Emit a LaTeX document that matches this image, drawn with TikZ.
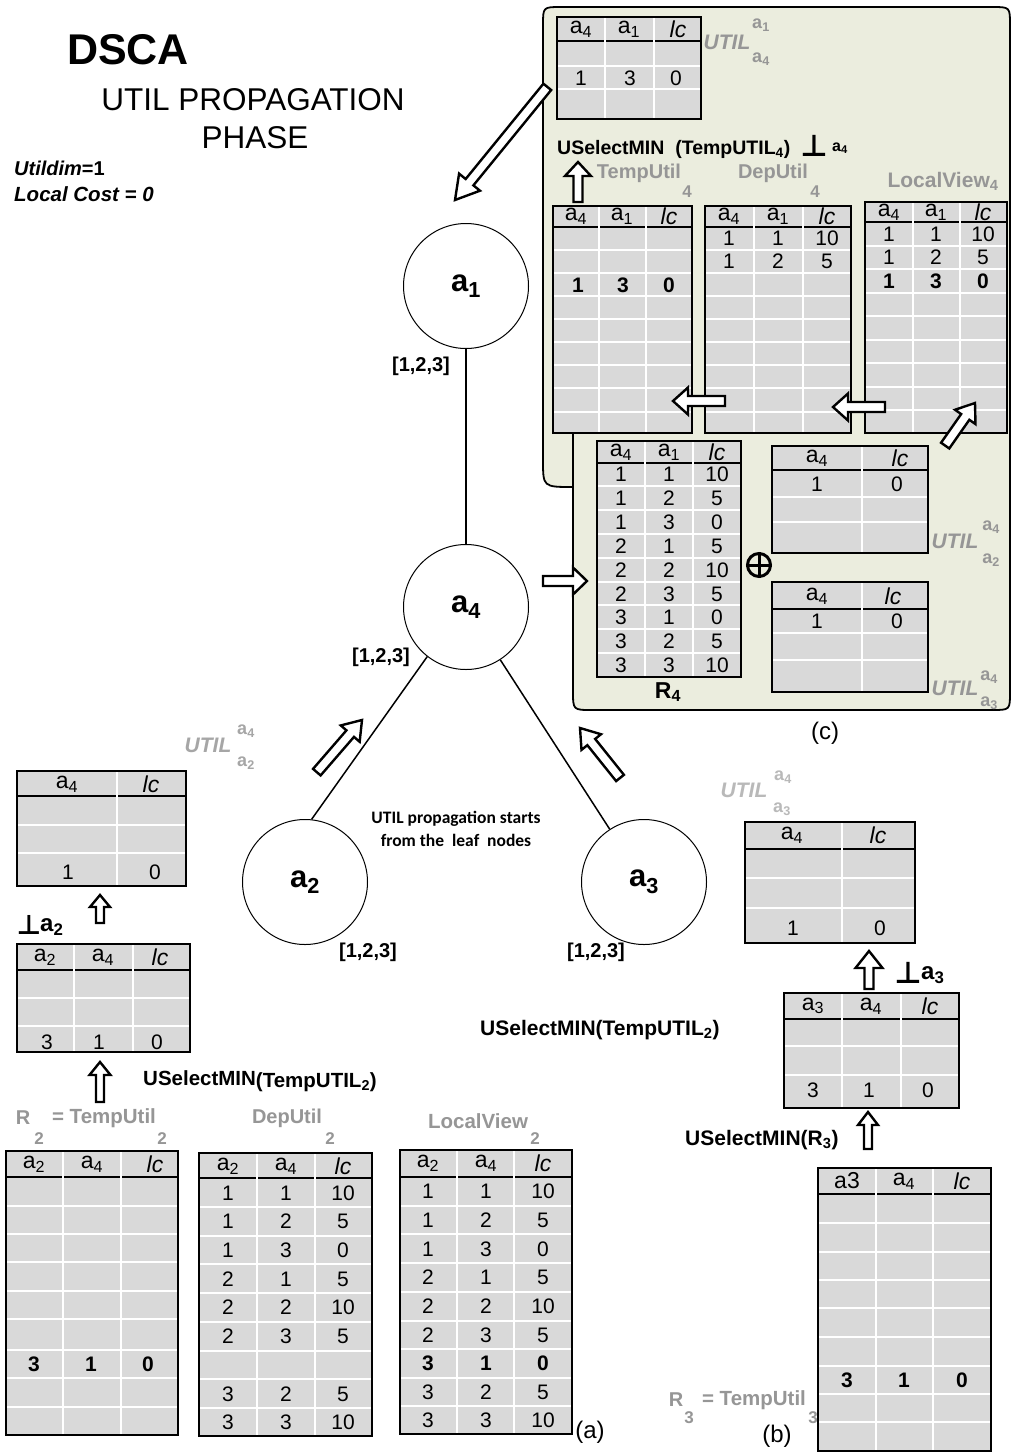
\documentclass[tikz,border=0pt]{standalone}
\usepackage{fontspec}
\setmainfont{Liberation Sans}
\newfontfamily\carlito{Carlito}
\newfontfamily\djv{DejaVu Sans}
\newcommand\fsz[1]{\fontsize{#1}{#1}\selectfont}
\definecolor{panelc}{RGB}{235,237,222}
\definecolor{cellc}{RGB}{217,217,217}
\definecolor{lbl}{RGB}{150,150,150}
\definecolor{lbllight}{RGB}{185,185,185}
\tikzset{
  wline/.style={draw=white, line width=2pt},
  bline/.style={draw=black, line width=2.2pt},
  cellt/.style={inner sep=0pt, font=\fsz{21}},
  cellb/.style={inner sep=0pt, font=\fsz{21}\bfseries},
  headt/.style={inner sep=0pt, font=\fsz{23}},
  agent/.style={circle, draw, line width=1pt, minimum size=125pt, inner sep=0pt, font=\fsz{31}\bfseries},
  edge/.style={draw, line width=1.5pt},
  bigarr/.style={draw=black, fill=white, line width=2.4pt, line join=miter},
  glbl/.style={text=lbl, inner sep=0pt, font=\fsz{20}\bfseries},
  gsub/.style={text=lbl, inner sep=0pt, font=\fsz{17}\bfseries},
  utl/.style={text=lbl, inner sep=0pt, font=\fsz{21}\bfseries\itshape},
  uts/.style={text=lbl, inner sep=0pt, font=\fsz{18}\bfseries},
  blk/.style={inner sep=0pt, font=\fsz{20.5}\bfseries},
  dom/.style={inner sep=0pt, font=\fsz{20}\bfseries},
  caption/.style={inner sep=0pt, font=\fsz{24}},
  perp/.style={inner sep=0pt, font=\djv\bfseries\fsz{28}, anchor=south},
  panelst/.style={fill=panelc, draw=black, line width=1.8pt},
}
% table box: x1,y1,x2,y2,header bottom, column splits, row lines
\newcommand\tabbox[7]{%
  \fill[cellc] (#1,#2) rectangle (#3,#4);
  \foreach \yy in {#7} {\draw[wline] (#1,\yy) -- (#3,\yy);}
  \draw[bline] (#1,#5) -- (#3,#5);
  \foreach \xx in {#6} {\draw[wline] (\xx,#2) -- (\xx,#4);}
  \draw[bline] (#1,#2) rectangle (#3,#4);
}
% one row of cell texts: [style]{y}{x/text,...}
\newcommand\trow[3][cellt]{\foreach \xx/\vv in {#3} {\node[#1] (t\xx-#2) at (\xx,#2) {\vv};}}
% block arrow: tip x, tip y, angle, length, head half width, head length, shaft half width
\newcommand\barrow[7]{\begin{scope}[shift={(#1,#2)},rotate=#3]
  \draw[bigarr] (0,0) -- (-#6,#5) -- (-#6,#7) -- (-#4,#7) -- (-#4,-#7) -- (-#6,-#7) -- (-#6,-#5) -- cycle;
\end{scope}}
\newcommand\asub[1]{a\textsubscript{#1}}

\begin{document}
\begin{tikzpicture}[x=1pt,y=-1pt]
\useasboundingbox (0,0) rectangle (1012,1454);
\fill[white] (0,0) rectangle (1012,1454);

% ---------- title ----------
\node[inner sep=0pt, font=\fsz{43}\bfseries] (title) at (128,50) {DSCA};
\node[inner sep=0pt, font=\fsz{31.5}] (sub1) at (253,100) {UTIL PROPAGATION};
\node[inner sep=0pt, font=\fsz{31.5}] (sub2) at (255,138) {PHASE};
\node[inner sep=0pt, font=\fsz{20}\bfseries, anchor=west] (udim) at (14,168) {\textit{Utildim}=1};
\node[inner sep=0pt, font=\fsz{20.5}\bfseries\itshape, anchor=west] (lcost) at (14,194) {Local Cost = 0};

% ---------- panel (c) ----------
\draw[panelst] (543,460) -- (543,25) .. controls (543,7) .. (561,7) -- (992,7)
  .. controls (1010,7) .. (1010,25) -- (1010,692) .. controls (1010,710) .. (992,710)
  -- (592,710) .. controls (573,710) .. (573,691) -- (573,487)
  .. controls (543,487) .. (543,460) -- cycle;
\draw[black, line width=1.8pt] (573,433) -- (573,487);

% UTIL a4 -> a1 table
\tabbox{557}{17}{701}{119}{41}{605,654}{66,89}
\trow[headt]{29}{581/\asub{4},629/\asub{1},678/\textit{lc}}
\trow{78}{581/1,630/3,676/0}
\node[utl] (u41) at (727,42) {UTIL};
\node[uts] (u41s) at (761,25) {\asub{1}};
\node[uts] (u41b) at (761,59) {\asub{4}};

\node[blk, font=\fsz{19.5}\bfseries, anchor=west] (sel4) at (557,149) {USelectMIN\ \ (TempUTIL\textsubscript{4})};
\node[perp, font=\djv\bfseries\fsz{30}] (perp4) at (814,157) {⊥};
\node[blk, font=\fsz{16}\bfseries, anchor=west] (perp4a) at (832,148) {\asub{4}};

\node[glbl] (lbT4) at (639,173) {TempUtil};
\node[gsub] (lbT4s) at (687,192) {4};
\node[glbl] (lbD4) at (773,173) {DepUtil};
\node[gsub] (lbD4s) at (815,192) {4};
\node[glbl, font=\fsz{21}\bfseries] (lbL4) at (943,181) {LocalView\textsubscript{4}};

% TempUtil4
\tabbox{553}{206}{692}{433}{227}{599,646}{250,273,296,319,342,365,388,412}
\trow[headt]{216}{576/\asub{4},622/\asub{1},669/\textit{lc}}
\trow[cellb]{285}{578/1,623/3,669/0}
% DepUtil4
\tabbox{705}{206}{851}{433}{227}{754,803}{250,273,296,319,342,365,388,412}
\trow[headt]{216}{729/\asub{4},778/\asub{1},827/\textit{lc}}
\trow{238}{729/1,778/1,827/10}
\trow{261}{729/1,778/2,827/5}
% LocalView4
\tabbox{865}{202}{1007}{433}{222}{913,960}{246,269,293,316,340,363,387,410}
\trow[headt]{212}{889/\asub{4},936/\asub{1},983/\textit{lc}}
\trow{234}{889/1,936/1,983/10}
\trow{257}{889/1,936/2,983/5}
\trow[cellb]{281}{889/1,936/3,983/0}

% arrows inside panel
\barrow{578}{162}{90}{40}{13}{14}{4.5}
\barrow{673}{401}{180}{52}{13.5}{15}{5}
\barrow{833}{407}{180}{52}{13.5}{15}{5}
\barrow{975}{403}{55}{52}{12.5}{17}{5}
\barrow{587}{581}{0}{44}{13.5}{14}{5}

% R4
\tabbox{597}{441}{741}{677}{463}{645,693}{486,510,534,558,582,605,629,653}
\trow[headt]{452}{621/\asub{4},669/\asub{1},717/\textit{lc}}
\trow{474}{621/1,669/1,717/10}
\trow{498}{621/1,669/2,717/5}
\trow{522}{621/1,669/3,717/0}
\trow{546}{621/2,669/1,717/5}
\trow{570}{621/2,669/2,717/10}
\trow{594}{621/2,669/3,717/5}
\trow{617}{621/3,669/1,717/0}
\trow{641}{621/3,669/2,717/5}
\trow{665}{621/3,669/3,717/10}
\node[inner sep=0pt, font=\fsz{23}\bfseries] (R4) at (668,692) {R\textsubscript{4}};

% oplus
\node[circle, draw, line width=3pt, minimum size=23pt, inner sep=0pt] (oplus) at (759,565) {};
\draw[line width=3pt] (oplus.north) -- (oplus.south) (oplus.west) -- (oplus.east);

% UTIL a2 -> a4 (panel)
\tabbox{772}{446}{928}{553}{470}{862}{497,522}
\trow[headt]{458}{817/\asub{4},900/\textit{lc}}
\trow{484}{817/1,897/0}
\node[utl] (u24p) at (955,541) {UTIL};
\node[uts] (u24ps) at (991,527) {\asub{4}};
\node[uts] (u24pb) at (991,560) {\asub{2}};
% UTIL a3 -> a4 (panel)
\tabbox{772}{582}{928}{692}{609}{862}{633,660}
\trow[headt]{596}{817/\asub{4},893/\textit{lc}}
\trow{621}{817/1,897/0}
\node[utl] (u34p) at (955,688) {UTIL};
\node[uts] (u34ps) at (989,677) {\asub{4}};
\node[uts] (u34pb) at (989,703) {\asub{3}};

\node[caption] (capc) at (825,733) {(c)};

% ---------- graph ----------
\node[agent] (a1) at (466,286) {a\textsubscript{1}};
\node[agent] (a4) at (466,607) {a\textsubscript{4}};
\node[agent] (a2) at (305,882) {a\textsubscript{2}};
\node[agent] (a3) at (644,882) {a\textsubscript{3}};
\draw[edge] (a1) -- (a4);
\draw[edge] (a4.232) -- (a2.84);
\draw[edge] (a4.303) -- (a3.123);
\node[dom] (d1) at (421,366) {[1,2,3]};
\node[dom] (d4) at (381,657) {[1,2,3]};
\node[dom] (d2) at (368,952) {[1,2,3]};
\node[dom] (d3) at (596,952) {[1,2,3]};

\barrow{455}{200}{230.8}{146}{13.5}{23}{5}
\barrow{362}{720}{49.1}{69}{12.5}{18}{5}
\barrow{580}{728}{128.7}{64}{12.5}{18}{5}

\node[inner sep=0pt, align=center, font=\carlito\bfseries\fontsize{17.5}{23}\selectfont] (note) at (456,829) {UTIL propagation starts\\from the\ \ leaf\ \ nodes};

% ---------- left (a) ----------
\node[utl, text=black!35] (u24) at (208,745) {UTIL};
\node[uts, text=black!35] (u24s) at (246,731) {\asub{4}};
\node[uts, text=black!35] (u24b) at (246,763) {\asub{2}};

\tabbox{17}{771}{186}{886}{796}{117}{825,853}
\trow[headt]{784}{67/\asub{4},151/\textit{lc}}
\trow{872}{68/1,155/0}

\barrow{100}{895}{90}{28}{10}{12}{4}
\node[perp, font=\djv\bfseries\fsz{27}] (perp2) at (29,935) {⊥};
\node[inner sep=0pt, font=\fsz{24}\bfseries, anchor=west] (perp2a) at (40,927) {\asub{2}};

\tabbox{17}{944}{190}{1052}{970}{74,133}{998,1026}
\trow[headt]{957}{45/\asub{2},103/\asub{4},160/\textit{lc}}
\trow{1042}{47/3,99/1,157/0}

\barrow{100}{1062}{90}{40}{10.5}{13}{4}
\node[blk, anchor=west] (sel2) at (143,1081) {USelectMIN\raisebox{-2pt}{(TempUTIL\textsubscript{2})}};

\node[glbl] (lbR2) at (23,1118) {R};
\node[gsub] (lbR2s) at (39,1139) {2};
\node[glbl, font=\fsz{20.5}\bfseries] (lbT2) at (104,1118) {= TempUtil};
\node[gsub] (lbT2s) at (162,1139) {2};
\node[glbl] (lbD2) at (287,1118) {DepUtil};
\node[gsub] (lbD2s) at (330,1139) {2};
\node[glbl, font=\fsz{20.5}\bfseries] (lbL2) at (478,1121) {LocalView};
\node[gsub] (lbL2s) at (535,1139) {2};

% R2
\tabbox{6}{1151}{178}{1435}{1177}{63,121}{1206,1234,1262,1291,1319,1350,1378,1407}
\trow[headt]{1164}{34/\asub{2},92/\asub{4},155/\textit{lc}}
\trow[cellb]{1364}{34/3,91/1,148/0}
% DepUtil2
\tabbox{199}{1153}{372}{1436}{1178}{257,315}{1207,1236,1264,1293,1322,1351,1379,1408}
\trow[headt]{1166}{228/\asub{2},286/\asub{4},343/\textit{lc}}
\trow{1193}{228/1,286/1,343/10}
\trow{1221}{228/1,286/2,343/5}
\trow{1250}{228/1,286/3,343/0}
\trow{1279}{228/2,286/1,343/5}
\trow{1307}{228/2,286/2,343/10}
\trow{1336}{228/2,286/3,343/5}
\trow{1394}{228/3,286/2,343/5}
\trow{1422}{228/3,286/3,343/10}
% LocalView2
\tabbox{400}{1150}{572}{1434}{1177}{457,514}{1206,1234,1263,1292,1321,1349,1378,1406}
\trow[headt]{1163}{428/\asub{2},486/\asub{4},543/\textit{lc}}
\trow{1191}{428/1,486/1,543/10}
\trow{1220}{428/1,486/2,543/5}
\trow{1249}{428/1,486/3,543/0}
\trow{1277}{428/2,486/1,543/5}
\trow{1306}{428/2,486/2,543/10}
\trow{1335}{428/2,486/3,543/5}
\trow[cellb]{1363}{428/3,486/1,543/0}
\trow{1392}{428/3,486/2,543/5}
\trow{1420}{428/3,486/3,543/10}
\node[caption] (capa) at (590,1432) {(a)};

% ---------- right (b) ----------
\node[blk, font=\fsz{21}\bfseries, anchor=west] (selm) at (480,1030) {USelectMIN(TempUTIL\textsubscript{2})};

\node[utl, text=lbllight] (u34) at (744,790) {UTIL};
\node[uts, text=lbllight] (u34s) at (783,777) {\asub{4}};
\node[uts, text=lbllight] (u34b) at (782,809) {\asub{3}};

\tabbox{745}{822}{915}{943}{849}{842}{878,908}
\trow[headt]{835}{792/\asub{4},878/\textit{lc}}
\trow{928}{793/1,880/0}

\barrow{869}{951}{90}{38}{13.5}{17}{4.5}
\node[perp, font=\djv\bfseries\fsz{30}] (perp3) at (908,984) {⊥};
\node[inner sep=0pt, font=\fsz{24}\bfseries, anchor=west] (perp3a) at (921,975) {\asub{3}};

\tabbox{784}{993}{959}{1108}{1019}{842,901}{1046,1075}
\trow[headt]{1006}{813/\asub{3},871/\asub{4},930/\textit{lc}}
\trow{1090}{813/3,869/1,928/0}

\barrow{868}{1112}{90}{37}{10}{13}{4}
\node[blk, font=\fsz{21}\bfseries, anchor=west] (sel3) at (685,1140) {USelectMIN(R\textsubscript{3})};

\tabbox{818}{1168}{991}{1451}{1194}{876,933}{1223,1252,1280,1308,1337,1366,1394,1422}
\trow[headt]{1181}{847/a3,904/\asub{4},962/\textit{lc}}
\trow[cellb]{1380}{847/3,904/1,962/0}

\node[glbl] (lbR3) at (676,1400) {R};
\node[gsub] (lbR3s) at (689,1418) {3};
\node[glbl, font=\fsz{20.5}\bfseries] (lbT3) at (754,1400) {= TempUtil};
\node[gsub] (lbT3s) at (813,1418) {3};
\node[caption] (capb) at (777,1436) {(b)};
\end{tikzpicture}
\end{document}
